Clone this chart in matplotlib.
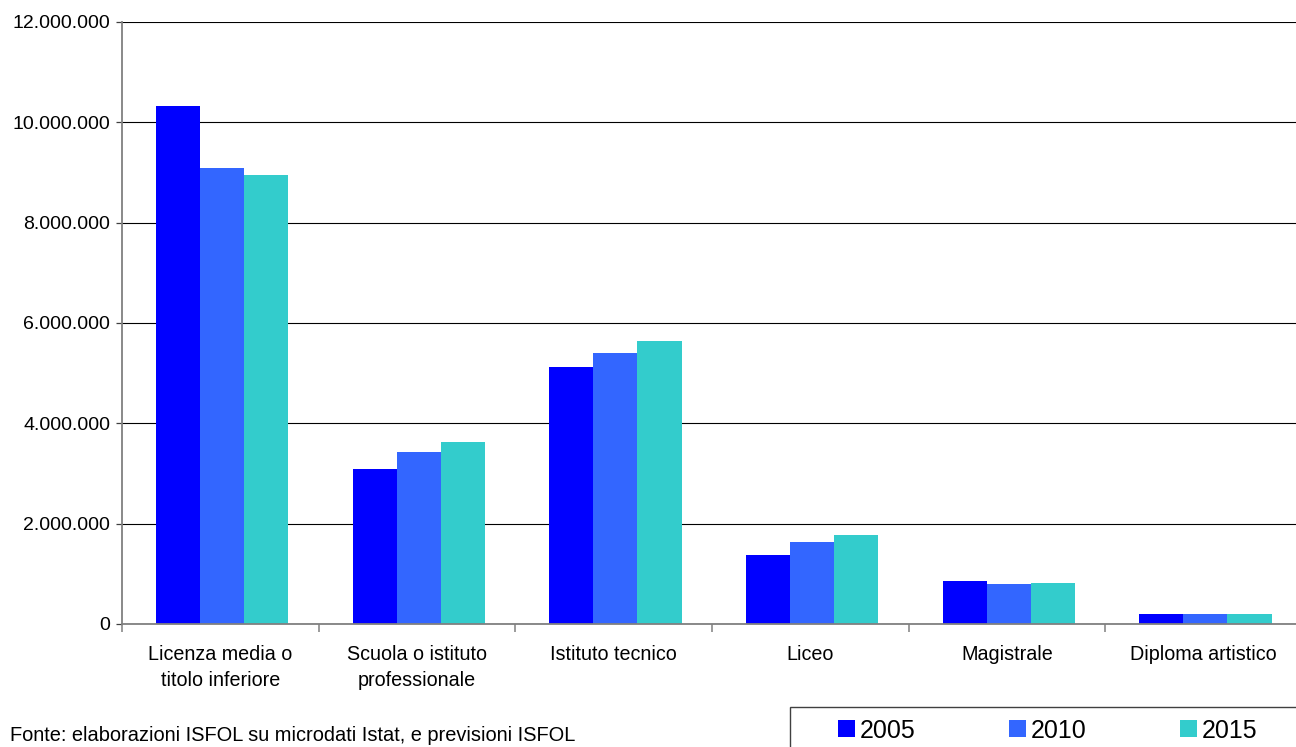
import matplotlib
matplotlib.use("Agg")
import matplotlib.pyplot as plt
import numpy as np
from matplotlib.patches import Patch, Rectangle
from matplotlib.ticker import FuncFormatter, FixedLocator

plt.rcParams["font.family"] = ["Liberation Sans", "DejaVu Sans"]

CATEGORIES = ["Licenza media o\ntitolo inferiore", "Scuola o istituto\nprofessionale",
              "Istituto tecnico", "Liceo", "Magistrale", "Diploma artistico"]
YEARS = ["2005", "2010", "2015"]
VALUES_2005 = [10330000, 3090000, 5130000, 1380000, 860000, 200000]
VALUES_2010 = [9090000, 3430000, 5410000, 1640000, 800000, 200000]
VALUES_2015 = [8950000, 3630000, 5640000, 1780000, 820000, 200000]
COLORS = ["#0000FF", "#3366FF", "#33CCCC"]
SOURCE = "Fonte: elaborazioni ISFOL su microdati Istat, e previsioni ISFOL"

W, H = 1296, 747
fig = plt.figure(figsize=(W / 100, H / 100), dpi=100)
# plot area runs slightly past the right edge of the figure
ax = fig.add_axes([122 / W, 1 - 624 / H, 1180 / W, 602 / H])

x = np.arange(len(CATEGORIES))
bar_w = 0.224
for i, (vals, col) in enumerate(zip([VALUES_2005, VALUES_2010, VALUES_2015], COLORS)):
    ax.bar(x + (i - 1) * bar_w + 0.009, vals, width=bar_w, color=col, zorder=3, linewidth=0)

ax.set_xlim(-0.5, len(CATEGORIES) - 0.5)
ax.set_ylim(0, 12000000)
ax.set_yticks(np.arange(0, 12000001, 2000000))
ax.yaxis.set_major_formatter(FuncFormatter(lambda v, p: f"{int(v):,}".replace(",", ".")))
ax.grid(axis="y", color="black", linewidth=0.8, zorder=1)
ax.tick_params(axis="y", direction="out", length=4, width=0.9, color="#404040", pad=4.6, labelsize=14)

# category names centred, tick marks between groups
ax.set_xticks(x)
ax.set_xticklabels(CATEGORIES, fontsize=14.2, linespacing=1.48)
ax.tick_params(axis="x", which="major", length=0, pad=15)
ax.xaxis.set_minor_locator(FixedLocator(np.arange(-0.5, len(CATEGORIES), 1.0)))
ax.tick_params(axis="x", which="minor", direction="out", length=6, width=1.1, color="#808080")

for side in ["top", "right"]:
    ax.spines[side].set_visible(False)
ax.spines["left"].set_color("#808080")
ax.spines["left"].set_linewidth(1.3)
ax.spines["bottom"].set_color("#808080")
ax.spines["bottom"].set_linewidth(1.3)
ax.spines["bottom"].set_zorder(4)

fig.text(10 / W, 1 - 741 / H, SOURCE, fontsize=14.4, va="baseline", ha="left")

# legend box runs off the lower right corner
fig.patches.append(Rectangle((790 / W, -0.05), 0.5, 0.05 + (747 - 707) / H, transform=fig.transFigure,
                             facecolor="white", edgecolor="#404040", linewidth=1.0))
handles = [Patch(facecolor=c, edgecolor="none", label=y) for c, y in zip(COLORS, YEARS)]
fig.legend(handles=handles, loc="center left", bbox_to_anchor=(838 / W, 1 - 730.5 / H), ncol=3,
           frameon=False, fontsize=18, handlelength=0.66, handleheight=0.66, handletextpad=0.2,
           columnspacing=3.75, borderpad=0, borderaxespad=0)

fig.savefig("out.png", dpi=100)
